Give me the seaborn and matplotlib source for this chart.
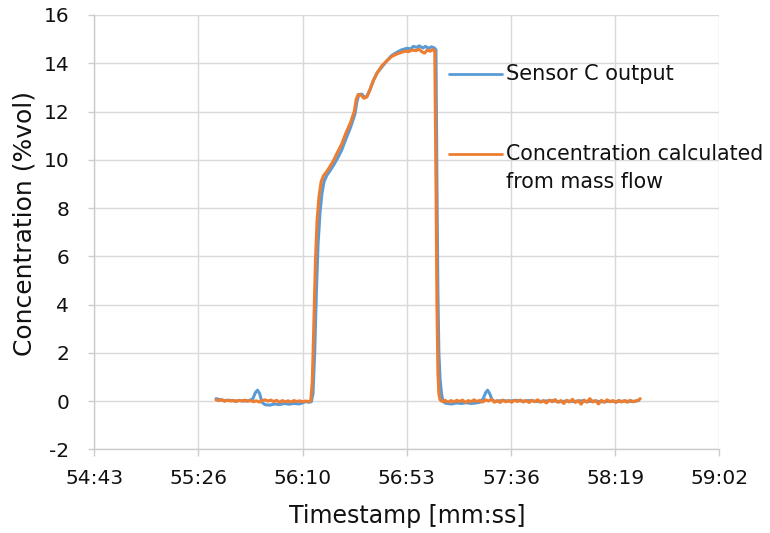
import matplotlib
matplotlib.use("Agg")
import matplotlib.pyplot as plt
from matplotlib.lines import Line2D
import seaborn as sns
import pandas as pd

# ---- data (time in seconds since 00:00) ----
sensor_t = [3333.7, 3335.5, 3337.5, 3339.5, 3341.5, 3343.5, 3345.5, 3347.5, 3349.0, 3350.0,
            3350.9, 3351.8, 3352.7, 3354.0, 3356.0, 3358.0, 3360.0, 3362.0, 3364.0, 3366.0,
            3368.0, 3369.5, 3370.8, 3372.0, 3373.2, 3373.9, 3374.6, 3375.3, 3376.0, 3376.8,
            3377.6, 3378.5, 3379.6, 3381.0, 3382.3, 3384.0, 3385.8, 3387.5, 3389.5, 3391.3,
            3392.1, 3392.9, 3394.1, 3395.2, 3396.2, 3397.5, 3399.0, 3400.5, 3402.5, 3404.5,
            3406.5, 3408.6, 3410.5, 3412.8, 3414.5, 3415.5, 3416.9, 3418.0, 3419.5, 3420.5,
            3421.8, 3423.0, 3424.3, 3424.9, 3425.3, 3425.7, 3426.1, 3426.6, 3427.2, 3427.8,
            3428.6, 3429.5, 3431.5, 3433.5, 3435.5, 3437.5, 3439.5, 3441.5, 3443.2, 3444.5,
            3445.5, 3446.3, 3447.2, 3448.2, 3449.5, 3452.0, 3455.0, 3458.0, 3461.0, 3464.0,
            3467.0, 3470.0, 3473.0, 3476.0, 3479.0, 3482.0, 3485.0, 3488.0, 3491.0, 3494.0,
            3497.0, 3500.0, 3503.0, 3506.0, 3509.0]
sensor_v = [0.10, 0.05, 0.02, 0.03, 0.00, 0.02, 0.00, 0.02, 0.10, 0.35,
            0.45, 0.30, -0.05, -0.15, -0.17, -0.12, -0.15, -0.10, -0.13, -0.10,
            -0.12, -0.08, -0.02, -0.05, -0.03, 0.3, 2.0, 4.5, 6.5, 7.8,
            8.6, 9.1, 9.35, 9.55, 9.75, 10.05, 10.4, 10.85, 11.35, 11.9,
            12.4, 12.7, 12.72, 12.6, 12.62, 12.9, 13.3, 13.6, 13.85, 14.1,
            14.32, 14.45, 14.55, 14.62, 14.6, 14.7, 14.66, 14.72, 14.63, 14.7,
            14.62, 14.68, 14.63, 14.55, 9.0, 4.5, 2.0, 0.9, 0.3, 0.0,
            -0.08, -0.10, -0.12, -0.08, -0.10, -0.07, -0.10, -0.08, -0.05, 0.10,
            0.35, 0.45, 0.30, 0.05, -0.02, 0.02, 0.00, 0.03, 0.00, 0.02,
            -0.02, 0.00, 0.02, -0.03, 0.00, -0.02, 0.01, -0.02, 0.00, -0.03,
            -0.01, -0.02, 0.00, -0.02, 0.02]

massflow_t = [3333.7, 3334.8, 3336.0, 3337.2, 3338.4, 3339.6, 3340.8, 3342.0, 3343.2, 3344.4,
              3345.6, 3346.8, 3348.0, 3349.2, 3350.4, 3351.6, 3352.8, 3354.0, 3355.2, 3356.4,
              3357.6, 3358.8, 3360.0, 3361.2, 3362.4, 3363.6, 3364.8, 3366.0, 3367.2, 3368.4,
              3369.6, 3370.8, 3372.0, 3373.0, 3373.6, 3374.2, 3374.9, 3375.6, 3376.4, 3377.3,
              3378.3, 3379.5, 3380.8, 3382.3, 3384.0, 3385.8, 3387.5, 3389.5, 3391.0, 3391.8,
              3392.6, 3393.8, 3395.0, 3396.2, 3397.5, 3399.0, 3400.5, 3402.5, 3404.5, 3406.5,
              3408.6, 3410.5, 3412.0, 3413.5, 3415.0, 3416.5, 3417.8, 3419.0, 3420.2, 3421.3,
              3422.5, 3423.6, 3424.4, 3424.9, 3425.3, 3425.7, 3426.1, 3426.6, 3427.5, 3428.7,
              3429.9, 3431.1, 3432.3, 3433.5, 3434.7, 3435.9, 3437.1, 3438.3, 3439.5, 3440.7,
              3441.9, 3443.1, 3444.3, 3445.5, 3446.7, 3447.9, 3449.1, 3450.3, 3451.5, 3452.7,
              3453.9, 3455.1, 3456.3, 3457.5, 3458.7, 3459.9, 3461.1, 3462.3, 3463.5, 3464.7,
              3465.9, 3467.1, 3468.3, 3469.5, 3470.7, 3471.9, 3473.1, 3474.3, 3475.5, 3476.7,
              3477.9, 3479.1, 3480.3, 3481.5, 3482.7, 3483.9, 3485.1, 3486.3, 3487.5, 3488.7,
              3489.9, 3491.1, 3492.3, 3493.5, 3494.7, 3495.9, 3497.1, 3498.3, 3499.5, 3500.7,
              3501.9, 3503.1, 3504.3, 3505.5, 3506.7, 3507.9, 3509.0, 3509.6]
massflow_v = [0.05, 0.02, 0.06, -0.01, 0.04, 0.00, 0.03, -0.02, 0.03, 0.00,
              0.04, -0.01, 0.02, -0.03, 0.01, -0.04, 0.02, 0.05, 0.00, 0.04,
              -0.02, 0.03, -0.05, 0.02, -0.03, 0.01, -0.04, 0.02, -0.02, 0.01,
              -0.03, 0.00, -0.02, 0.02, 0.8, 3.0, 5.8, 7.5, 8.5, 9.1,
              9.35, 9.5, 9.7, 9.95, 10.3, 10.65, 11.1, 11.55, 12.0, 12.5,
              12.7, 12.68, 12.55, 12.6, 12.9, 13.3, 13.6, 13.9, 14.1, 14.28,
              14.38, 14.45, 14.5, 14.48, 14.55, 14.52, 14.58, 14.48, 14.42, 14.55,
              14.5, 14.57, 14.5, 9.0, 4.0, 1.2, 0.3, 0.05, -0.02, 0.03,
              -0.05, 0.02, -0.04, 0.03, -0.02, 0.04, -0.06, 0.02, -0.03, 0.05,
              -0.02, 0.03, -0.04, 0.05, 0.00, 0.08, -0.05, 0.02, -0.06, 0.04,
              -0.03, 0.02, -0.05, 0.03, -0.02, 0.04, -0.04, 0.02, -0.06, 0.03,
              -0.03, 0.05, -0.05, 0.02, -0.08, 0.04, -0.03, 0.06, -0.05, 0.02,
              -0.10, 0.03, -0.04, 0.07, -0.06, 0.02, -0.13, 0.04, -0.05, 0.10,
              -0.04, 0.02, -0.12, 0.03, -0.05, 0.05, -0.03, 0.02, -0.06, 0.03,
              -0.04, 0.02, -0.05, 0.03, -0.03, 0.00, 0.05, 0.10]

series_names = ["Sensor C output", "Concentration calculated\nfrom mass flow"]
x_tick_values = [3283.2, 3326.4, 3369.6, 3412.8, 3456.0, 3499.2, 3542.4]
x_tick_labels = ["54:43", "55:26", "56:10", "56:53", "57:36", "58:19", "59:02"]
y_ticks = [-2, 0, 2, 4, 6, 8, 10, 12, 14, 16]

df = pd.concat([
    pd.DataFrame({"t": sensor_t, "c": sensor_v, "series": series_names[0]}),
    pd.DataFrame({"t": massflow_t, "c": massflow_v, "series": series_names[1]}),
], ignore_index=True)

sns.set_theme(style="white")
plt.rcParams["font.family"] = ["DejaVu Sans"]

BLUE = "#5B9BD5"
ORANGE = "#ED7D31"
GRID = "#d9d9d9"

fig = plt.figure(figsize=(7.7, 5.33), dpi=100)
ax = fig.add_axes([94.3 / 770, (533 - 449.3) / 533, 625 / 770, 434.3 / 533])

sns.lineplot(data=df, x="t", y="c", hue="series", palette=[BLUE, ORANGE],
             estimator=None, sort=False, linewidth=2.2, legend=False, ax=ax)

ax.set_xlim(x_tick_values[0], x_tick_values[-1])
ax.set_ylim(-2, 16)
ax.set_xticks(x_tick_values)
ax.set_xticklabels(x_tick_labels)
ax.set_yticks(y_ticks)
ax.set_yticklabels([str(v) for v in y_ticks])

ax.grid(True, color=GRID, linewidth=1.0)
ax.set_axisbelow(True)
for s in ["top", "right"]:
    ax.spines[s].set_visible(False)
for s in ["left", "bottom"]:
    ax.spines[s].set_color("#cccccc")
    ax.spines[s].set_linewidth(1.0)

ax.tick_params(axis="x", which="major", bottom=True, length=5, width=1.0,
               color="#cccccc", labelsize=14.5, labelcolor="#111111", pad=9)
ax.tick_params(axis="y", which="major", left=True, length=4, width=1.0,
               color="#cccccc", labelsize=14.5, labelcolor="#111111", pad=14)

ax.set_xlabel("Timestamp [mm:ss]", fontsize=17, color="#111111")
ax.set_ylabel("Concentration (%vol)", fontsize=18, color="#111111")
ax.xaxis.label.set_va("center")
ax.xaxis.set_label_coords(0.5, (449.3 - 516) / 434.3)
ax.yaxis.label.set_va("center")
ax.yaxis.label.set_ha("center")
ax.yaxis.set_label_coords((25 - 94.3) / 625, (449.3 - 224) / 434.3)

# legend (manual, Excel-like: handle aligned with the first text line)
def fx(px):
    return px / 770

def fy(py):
    return 1 - py / 533

fig.add_artist(Line2D([fx(449), fx(502)], [fy(74), fy(74)], color=BLUE, linewidth=2.0))
fig.add_artist(Line2D([fx(449), fx(502)], [fy(154), fy(154)], color=ORANGE, linewidth=2.0))
fig.text(fx(506), fy(74), "Sensor C output", fontsize=15, va="center", ha="left", color="#111111")
fig.text(fx(506), fy(154), "Concentration calculated", fontsize=14.8, va="center", ha="left", color="#111111")
fig.text(fx(506), fy(182), "from mass flow", fontsize=14.8, va="center", ha="left", color="#111111")

fig.savefig("out.png", dpi=100)
